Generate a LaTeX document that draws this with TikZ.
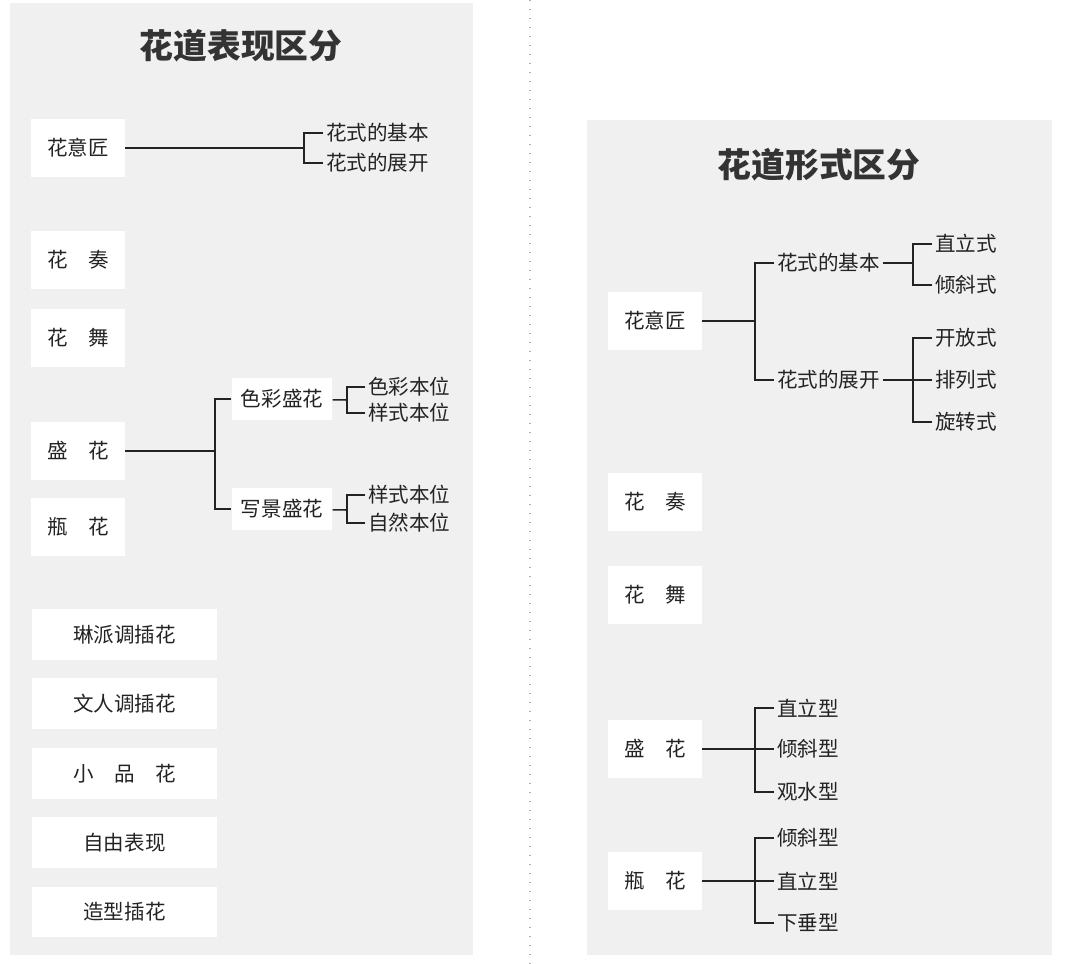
\documentclass[tikz,border=0pt]{standalone}
\usepackage{fontspec}
\newfontfamily\cjk{Noto Sans CJK SC}
\usetikzlibrary{positioning}

\definecolor{panelgray}{RGB}{240,240,240}
\definecolor{inkgray}{RGB}{35,35,35}
\definecolor{dotgray}{RGB}{175,175,175}

\begin{document}
\begin{tikzpicture}[
    x=0.025cm, y=-0.025cm,
    every node/.style={font=\cjk\fontsize{14.6pt}{17pt}\selectfont, text=inkgray},
    catbox/.style={rectangle, fill=white, minimum width=2.33cm, minimum height=1.46cm, inner sep=0pt},
    widebox/.style={rectangle, fill=white, minimum width=4.62cm, minimum height=1.27cm, inner sep=0pt},
    subbox/.style={rectangle, fill=white, minimum width=2.52cm, minimum height=1.05cm, inner sep=0pt},
    leaf/.style={anchor=west, inner xsep=2pt, inner ysep=1pt},
    link/.style={line width=1.1pt, draw=inkgray},
    paneltitle/.style={font=\cjk\bfseries\fontsize{24pt}{28pt}\selectfont, text=black!80}
]
\useasboundingbox (0,0) rectangle (1066,964);

% panels and divider
\fill[panelgray] (10,3) rectangle (473,955);
\fill[panelgray] (587,120) rectangle (1052,955);
\draw[dotgray, line width=1pt, dash pattern=on 1pt off 5.4pt] (530,0) -- (530,964);

% ============ LEFT PANEL: 表现区分 ============
\node[paneltitle] (titleL) at (241,46) {花道表现区分};

\node[catbox] (designL) at (78,148) {花意匠};
\node[catbox] (playL) at (78,260) {花　奏};
\node[catbox] (danceL) at (78,338) {花　舞};
\node[catbox] (bowlL) at (78,451) {盛　花};
\node[catbox] (vaseL) at (78,527) {瓶　花};

\node[leaf] (basicL) at (323,133) {花式的基本};
\node[leaf] (expandL) at (323,163) {花式的展开};

\node[subbox] (colorSub) at (282,399) {色彩盛花};
\node[subbox] (sceneSub) at (282,509) {写景盛花};

\node[leaf] (colorPos) at (365,387) {色彩本位};
\node[leaf] (stylePosA) at (365,413) {样式本位};
\node[leaf] (stylePosB) at (365,495) {样式本位};
\node[leaf] (naturePos) at (365,523) {自然本位};

\node[widebox] (rinpa) at (124.5,634.5) {琳派调插花};
\node[widebox, below=0.45cm of rinpa] (bunjin) {文人调插花};
\node[widebox, below=0.45cm of bunjin] (shohin) {小　品　花};
\node[widebox, below=0.45cm of shohin] (freeform) {自由表现};
\node[widebox, below=0.45cm of freeform] (zokei) {造型插花};

% junctions
\coordinate (jDesignL) at (304,148);
\coordinate (jBowlL) at (215,451);
\coordinate (jColor) at (347,400);
\coordinate (jScene) at (347,510);

\draw[link] (designL) -- (jDesignL);
\draw[link] (basicL.west) -| (jDesignL) |- (expandL.west);

\draw[link] (bowlL) -- (jBowlL);
\draw[link] (colorSub.west) -| (jBowlL) |- (sceneSub.west);

\draw[link] (colorSub) -- (jColor);
\draw[link] (colorPos.west) -| (jColor) |- (stylePosA.west);
\draw[link] (sceneSub) -- (jScene);
\draw[link] (stylePosB.west) -| (jScene) |- (naturePos.west);

% ============ RIGHT PANEL: 形式区分 ============
\node[paneltitle] (titleR) at (819,165) {花道形式区分};

\node[catbox] (designR) at (655,321) {花意匠};
\node[catbox] (playR) at (655,502) {花　奏};
\node[catbox] (danceR) at (655,595) {花　舞};
\node[catbox] (bowlR) at (655,749) {盛　花};
\node[catbox] (vaseR) at (655,881) {瓶　花};

\node[leaf] (basicR) at (774,263) {花式的基本};
\node[leaf] (expandR) at (774,380) {花式的展开};

\node[leaf] (uprightR) at (932,244) {直立式};
\node[leaf] (slantR) at (932,285) {倾斜式};
\node[leaf] (openR) at (932,338) {开放式};
\node[leaf] (arrangeR) at (932,380) {排列式};
\node[leaf] (rotateR) at (932,422) {旋转式};

\node[leaf] (bowlUp) at (774,708) {直立型};
\node[leaf] (bowlSlant) at (774,749) {倾斜型};
\node[leaf] (bowlWater) at (774,792) {观水型};

\node[leaf] (vaseSlant) at (774,838) {倾斜型};
\node[leaf] (vaseUp) at (774,881) {直立型};
\node[leaf] (vaseHang) at (774,923) {下垂型};

% junctions
\coordinate (jDesignR) at (755,321);
\coordinate (jBasic) at (913,263);
\coordinate (jExpand) at (913,380);
\coordinate (jBowlR) at (755,749);
\coordinate (jVaseR) at (755,881);

\draw[link] (designR) -- (jDesignR);
\draw[link] (basicR.west) -| (jDesignR) |- (expandR.west);

\draw[link] (basicR) -- (jBasic);
\draw[link] (uprightR.west) -| (jBasic) |- (slantR.west);
\draw[link] (expandR) -- (arrangeR);
\draw[link] (openR.west) -| (jExpand) |- (rotateR.west);

\draw[link] (bowlR) -- (bowlSlant);
\draw[link] (bowlUp.west) -| (jBowlR) |- (bowlWater.west);
\draw[link] (vaseR) -- (vaseUp);
\draw[link] (vaseSlant.west) -| (jVaseR) |- (vaseHang.west);

\end{tikzpicture}
\end{document}
